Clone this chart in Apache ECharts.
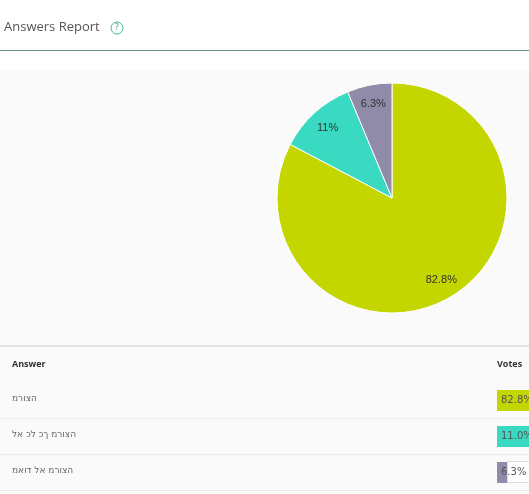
<!DOCTYPE html>
<html>
<head>
<meta charset="utf-8">
<script src="https://cdn.jsdelivr.net/npm/echarts@6/dist/echarts.min.js"></script>
<style>
  html, body { margin: 0; padding: 0; background: #fff; }
  #chart { width: 529px; height: 494px; }
</style>
</head>
<body>
<div id="chart"></div>
<script>
// answers data
const answers = ['מרוצה', 'לא כל כך מרוצה', 'מאוד לא מרוצה'];
const percents = [82.8, 11, 6.3];
const colors = ['#c4d600', '#3ad9c1', '#8f8ba8'];

const myChart = echarts.init(document.getElementById('chart'));

const pieData = answers.map((name, i) => ({
  name: name,
  value: percents[i],
  itemStyle: { color: colors[i] },
}));

// table rows
const rowY = [400, 436, 472];
const tableItems = [];
answers.forEach((name, i) => {
  tableItems.push({
    type: 'text',
    left: 12,
    top: rowY[i] - 6,
    // the page shows the hebrew in left-to-right order
    style: { text: '\u202D' + name + '\u202C', fill: '#666', font: '9px "DejaVu Sans"' },
  });
  tableItems.push({
    type: 'rect',
    shape: { x: 0, y: rowY[i] + 18, width: 529, height: 1 },
    style: { fill: '#ececec' },
  });
  if (i === 2) {
    tableItems.push({
      type: 'rect',
      shape: { x: 507.5, y: rowY[i] - 10.5, width: 30, height: 21 },
      style: { fill: '#fff', stroke: '#ddd', lineWidth: 1 },
    });
  }
  let w = i === 2 ? 10 : 36;
  tableItems.push({
    type: 'rect',
    shape: { x: 497, y: rowY[i] - 10, width: w, height: 21 },
    style: { fill: colors[i] },
  });
  tableItems.push({
    type: 'text',
    left: 501,
    top: rowY[i] - 5,
    style: {
      text: percents[i].toFixed(1) + '%' + (i === 2 ? ' /' : ''),
      fill: '#555',
      font: '10px "DejaVu Sans"',
    },
  });
});

let option = {
  backgroundColor: '#fff',
  graphic: [
    {
      type: 'rect',
      silent: true,
      shape: { x: 0, y: 70, width: 529, height: 424 },
      style: { fill: '#fafafa' },
      z: -10,
    },
    {
      type: 'text',
      left: 4,
      top: 21,
      style: { text: 'Answers Report', fill: '#555', font: '13px "Open Sans"' },
    },
    {
      type: 'circle',
      shape: { cx: 117, cy: 28, r: 6 },
      style: { fill: 'none', stroke: '#4fb39a', lineWidth: 1 },
    },
    {
      type: 'text',
      x: 117,
      y: 28,
      style: {
        text: '?',
        fill: '#4fb39a',
        font: '9px "DejaVu Sans"',
        align: 'center',
        verticalAlign: 'middle',
      },
    },
    {
      type: 'rect',
      shape: { x: 0, y: 50, width: 529, height: 1 },
      style: { fill: '#6b8a8a' },
    },
    {
      type: 'rect',
      shape: { x: 0, y: 345, width: 529, height: 2 },
      style: { fill: '#e2e2e2' },
    },
    {
      type: 'text',
      left: 12,
      top: 360,
      style: { text: 'Answer', fill: '#333', font: 'bold 9px "Open Sans"' },
    },
    {
      type: 'text',
      left: 497,
      top: 360,
      style: { text: 'Votes', fill: '#333', font: 'bold 9px "Open Sans"' },
    },
    ...tableItems,
  ],
  series: [
    {
      type: 'pie',
      center: [392, 198],
      radius: [0, 115],
      startAngle: 90,
      clockwise: true,
      silent: true,
      label: { show: false },
      itemStyle: { borderColor: '#fff', borderWidth: 1 },
      data: pieData,
    },
    {
      // transparent ring only for placing the labels
      type: 'pie',
      center: [392, 198],
      radius: [70, 115],
      startAngle: 90,
      clockwise: true,
      silent: true,
      itemStyle: { color: 'rgba(0,0,0,0)' },
      label: {
        position: 'inside',
        formatter: '{c}%',
        color: '#333',
        fontSize: 11,
        fontFamily: 'Liberation Sans',
      },
      data: percents.map((v, i) => ({ name: answers[i], value: v })),
    },
  ],
};

myChart.setOption(option);
</script>
</body>
</html>
